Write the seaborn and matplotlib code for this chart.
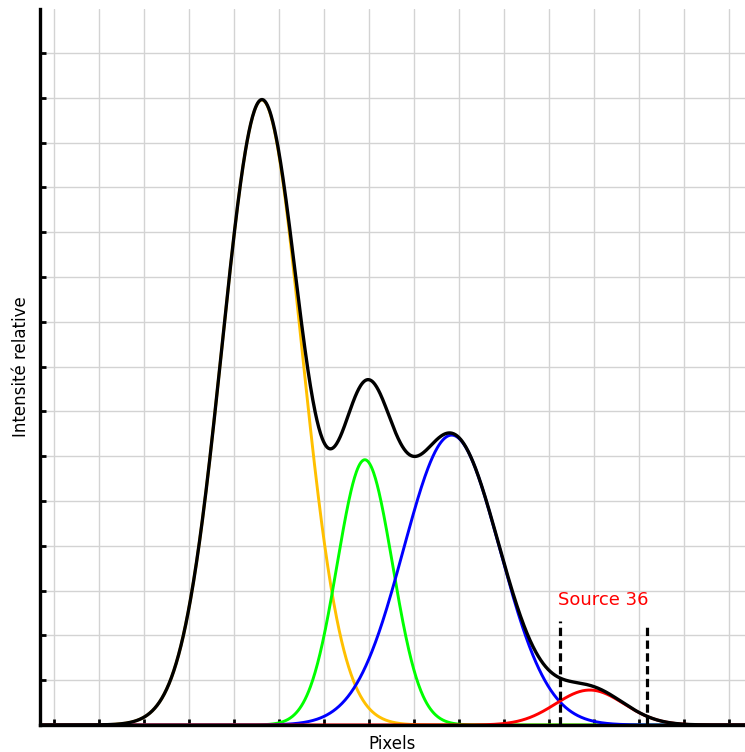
import numpy as np
import pandas as pd
import matplotlib
matplotlib.use("Agg")
import matplotlib.pyplot as plt
import seaborn as sns

# Gaussian components (x in pixel-axis units, y in relative intensity)
peak_names = ["pic 1", "pic 2", "pic 3", "Source 36"]
peak_colors = ["#ffc000", "#00ff00", "#0000ff", "#ff0000"]
peak_centers = [4.62, 6.91, 8.84, 11.91]
peak_heights = [13.95, 5.92, 6.47, 0.78]
peak_widths = [0.885, 0.615, 1.07, 0.76]

# integration window of the source
source_bounds = [11.24, 13.18]
source_tops = [2.32, 2.26]
source_label = "Source 36"
source_label_pos = (12.2, 2.8)

x_ticks = list(range(0, 16))
y_ticks = list(range(1, 16))


def gaussian(x, mu, amp, sigma):
    return amp * np.exp(-0.5 * ((x - mu) / sigma) ** 2)


def build_curves():
    x = np.linspace(-0.4, 15.5, 1200)
    frames = []
    total = np.zeros_like(x)
    for name, mu, amp, sig in zip(peak_names, peak_centers, peak_heights, peak_widths):
        y = gaussian(x, mu, amp, sig)
        total += y
        frames.append(pd.DataFrame({"x": x, "y": y, "peak": name}))
    comps = pd.concat(frames, ignore_index=True)
    fit = pd.DataFrame({"x": x, "y": total})
    return comps, fit


def main():
    sns.set_style("white")
    plt.rcParams["font.family"] = ["DejaVu Sans"]
    plt.rcParams["text.color"] = "black"
    plt.rcParams["axes.labelcolor"] = "black"

    comps, fit = build_curves()

    fig = plt.figure(figsize=(7.45, 7.52), dpi=100)
    ax = fig.add_axes([40 / 745, 27 / 752, 1 - 40 / 745, (725 - 9) / 752])

    sns.lineplot(data=comps, x="x", y="y", hue="peak", palette=peak_colors,
                 hue_order=peak_names, linewidth=2.1, legend=False, ax=ax,
                 sort=False, estimator=None)
    sns.lineplot(data=fit, x="x", y="y", color="black", linewidth=2.4,
                 legend=False, ax=ax, sort=False, estimator=None)

    ax.vlines(source_bounds, 0, source_tops, colors="black", linewidth=2.3,
              linestyles=(0, (2.6, 1.4)), zorder=5)
    ax.text(source_label_pos[0], source_label_pos[1], source_label,
            color="red", fontsize=13, ha="center", va="center")

    ax.set_xlim(-0.311, 15.36)
    ax.set_ylim(0, 15.98)
    ax.set_xticks(x_ticks)
    ax.set_yticks(y_ticks)
    ax.set_xticklabels([])
    ax.set_yticklabels([])
    ax.grid(True, color="#d3d3d3", linewidth=1.0)
    ax.set_axisbelow(True)
    ax.tick_params(direction="in", length=4, width=2, color="black",
                   bottom=True, left=True)

    for side in ["top", "right"]:
        ax.spines[side].set_visible(False)
    for side in ["left", "bottom"]:
        ax.spines[side].set_linewidth(2.4)
        ax.spines[side].set_color("black")
        ax.spines[side].set_zorder(6)

    ax.set_xlabel("Pixels", fontsize=12, labelpad=4, color="black")
    ax.set_ylabel("Intensité relative", fontsize=12, labelpad=4, color="black")

    fig.savefig("out.png", dpi=100)


if __name__ == "__main__":
    main()
